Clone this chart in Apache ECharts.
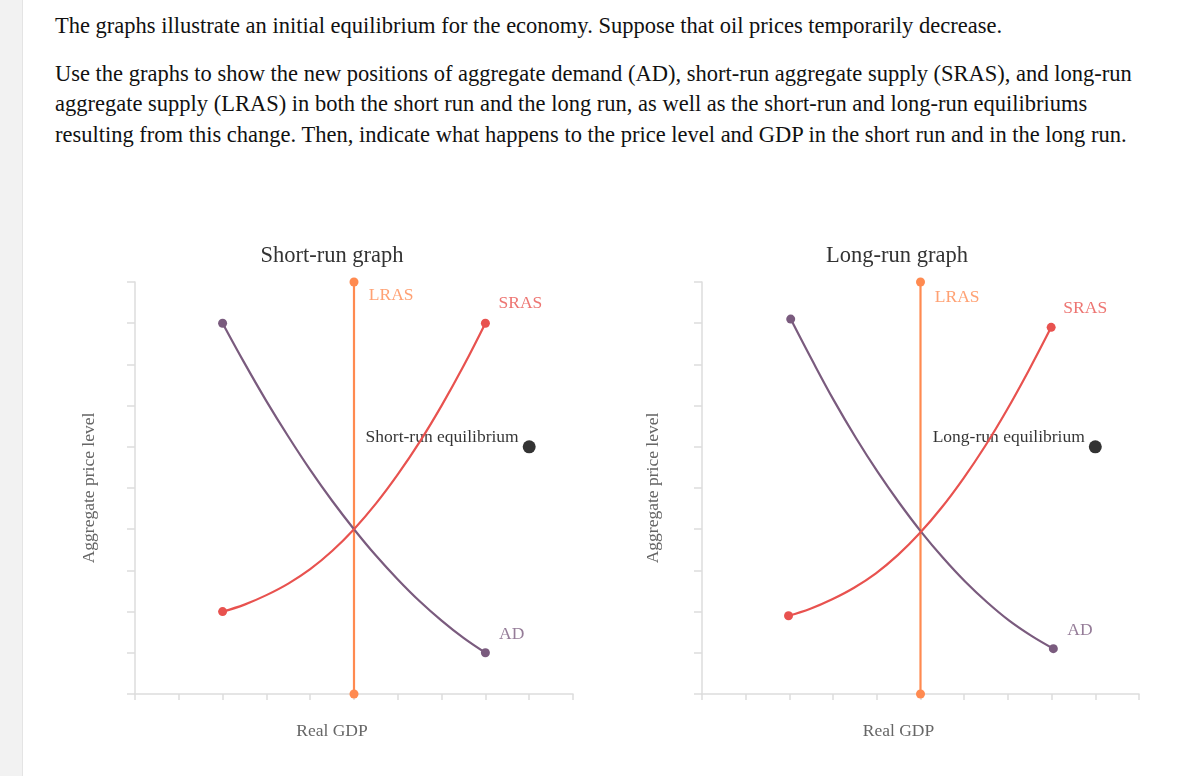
<!DOCTYPE html>
<html>
<head>
<meta charset="utf-8">
<script src="https://cdn.jsdelivr.net/npm/echarts@6/dist/echarts.min.js"></script>
<style>
  html, body { margin: 0; padding: 0; background: #fff; width: 1178px; height: 776px; overflow: hidden; }
  #strip { position: absolute; left: 0; top: 0; width: 22px; height: 776px; background: #f2f2f2; border-right: 1px solid #e4e4e4; }
  #text { position: absolute; left: 55px; top: 11px; width: 1120px; font-family: "Liberation Serif", "Times New Roman", serif; font-size: 22.5px; color: #111; white-space: nowrap; }
  #text p { margin: 0; line-height: 30.5px; }
  #text p.first { margin-bottom: 17px; }
  #chart { position: absolute; left: 0; top: 0; width: 1178px; height: 776px; }
</style>
</head>
<body>
<div id="strip"></div>
<div id="text">
  <p class="first">The graphs illustrate an initial equilibrium for the economy. Suppose that oil prices temporarily decrease.</p>
  <p>Use the graphs to show the new positions of aggregate demand (AD), short-run aggregate supply (SRAS), and long-run<br>aggregate supply (LRAS) in both the short run and the long run, as well as the short-run and long-run equilibriums<br>resulting from this change. Then, indicate what happens to the price level and GDP in the short run and in the long run.</p>
</div>
<div id="chart"></div>
<script>
// ---- data ----
const graphTitles = ["Short-run graph", "Long-run graph"];
const xAxisName = "Real GDP";
const yAxisName = "Aggregate price level";

// Short-run graph
const srLRAS = [[5, 0], [5, 10]];
const srAD = [[2, 9], [2.5, 8.03], [3, 7.11], [3.5, 6.25], [4, 5.44], [4.5, 4.69], [5, 4],
              [5.5, 3.36], [6, 2.78], [6.5, 2.25], [7, 1.78], [7.5, 1.36], [8, 1]];
const srSRAS = [[2, 2], [2.5, 2.17], [3, 2.4], [3.5, 2.68], [4, 3.03], [4.5, 3.47], [5, 4],
                [5.5, 4.62], [6, 5.33], [6.5, 6.12], [7, 7], [7.5, 7.96], [8, 9]];
const srEquilibrium = [[9, 6]];
const srEquilibriumName = "Short-run equilibrium";
const srCurveLabels = [
  { name: "LRAS", pos: [5.85, 9.68] },
  { name: "SRAS", pos: [8.8, 9.47] },
  { name: "AD", pos: [8.6, 1.45] }
];

// Long-run graph
const lrLRAS = [[5, 0], [5, 10]];
const lrAD = [[2.03, 9.1], [2.53, 8.08], [3.02, 7.12], [3.52, 6.22], [4.02, 5.39], [4.52, 4.63], [5.02, 3.93],
              [5.52, 3.3], [6.02, 2.73], [6.53, 2.22], [7.03, 1.78], [7.54, 1.41], [8.04, 1.1]];
const lrSRAS = [[1.98, 1.9], [2.48, 2.07], [2.98, 2.3], [3.48, 2.58], [3.98, 2.93], [4.48, 3.37], [4.98, 3.9],
                [5.48, 4.52], [5.98, 5.23], [6.48, 6.02], [6.98, 6.9], [7.48, 7.86], [7.99, 8.9]];
const lrEquilibrium = [[9, 6]];
const lrEquilibriumName = "Long-run equilibrium";
const lrCurveLabels = [
  { name: "LRAS", pos: [5.84, 9.62] },
  { name: "SRAS", pos: [8.77, 9.35] },
  { name: "AD", pos: [8.65, 1.55] }
];

// ---- styling ----
const FONT = "Liberation Serif";
const C_LRAS = "#ff8a50";
const C_SRAS = "#e8524f";
const C_AD = "#7a5b7e";
const AXIS_C = "#dddddd";
const LABEL_SIZE = 17.5;

function axisPair(gi, nameGapY) {
  return {
    x: {
      type: "value", gridIndex: gi, min: 0, max: 10, interval: 1,
      axisLine: { show: true, lineStyle: { color: AXIS_C, width: 1.5 } },
      axisTick: { show: true, length: 6, lineStyle: { color: AXIS_C, width: 1.5 } },
      axisLabel: { show: false }, splitLine: { show: false },
      name: xAxisName, nameLocation: "middle", nameGap: 28,
      nameTextStyle: { fontFamily: FONT, fontSize: LABEL_SIZE, color: "#666", padding: [0, 44, 0, 0] }
    },
    y: {
      type: "value", gridIndex: gi, min: 0, max: 10, interval: 1,
      axisLine: { show: true, lineStyle: { color: AXIS_C, width: 1.5 } },
      axisTick: { show: true, length: 8, lineStyle: { color: AXIS_C, width: 1.5 } },
      axisLabel: { show: false }, splitLine: { show: false },
      name: yAxisName, nameLocation: "middle", nameGap: nameGapY,
      nameTextStyle: { fontFamily: FONT, fontSize: LABEL_SIZE, color: "#666" }
    }
  };
}

function curve(data, color, gi) {
  return {
    type: "line", xAxisIndex: gi, yAxisIndex: gi, smooth: 0.4, clip: false,
    symbol: "circle", showSymbol: true, showAllSymbol: true,
    data: data.map((p, i) => ({
      value: p,
      symbolSize: (i === 0 || i === data.length - 1) ? 9 : 0
    })),
    lineStyle: { color: color, width: 2.2 },
    itemStyle: { color: color },
    z: 5, silent: true
  };
}

function labels(list, gi) {
  const colors = { LRAS: C_LRAS, SRAS: C_SRAS, AD: C_AD };
  return {
    type: "scatter", xAxisIndex: gi, yAxisIndex: gi, symbolSize: 1, clip: false,
    itemStyle: { color: "rgba(0,0,0,0)" },
    data: list.map(l => ({
      name: l.name, value: l.pos,
      label: { show: true, position: "inside", formatter: "{b}", color: colors[l.name],
               fontFamily: FONT, fontSize: LABEL_SIZE }
    })),
    z: 3, silent: true
  };
}

function equilibrium(data, name, gi) {
  return {
    type: "scatter", xAxisIndex: gi, yAxisIndex: gi, symbolSize: 13, clip: false,
    itemStyle: { color: "#000" },
    data: data.map(p => ({ name: name, value: p })),
    label: { show: true, position: "left", distance: 4, offset: [0, -9], formatter: "{b}",
             color: "#000", fontFamily: FONT, fontSize: LABEL_SIZE },
    z: 2, silent: true
  };
}

const a0 = axisPair(0, 37);
const a1 = axisPair(1, 40);

const option = {
  animation: false,
  title: [
    { text: graphTitles[0], left: 327, top: 240, textAlign: "center",
      textStyle: { fontFamily: FONT, fontSize: 22.5, fontWeight: "normal", color: "#333" } },
    { text: graphTitles[1], left: 892, top: 240, textAlign: "center",
      textStyle: { fontFamily: FONT, fontSize: 22.5, fontWeight: "normal", color: "#333" } }
  ],
  grid: [
    { left: 135, top: 282, width: 438, height: 412 },
    { left: 702, top: 282, width: 437, height: 412 }
  ],
  xAxis: [a0.x, a1.x],
  yAxis: [a0.y, a1.y],
  series: [
    labels(srCurveLabels, 0),
    equilibrium(srEquilibrium, srEquilibriumName, 0),
    curve(srLRAS, C_LRAS, 0),
    curve(srAD, C_AD, 0),
    curve(srSRAS, C_SRAS, 0),
    labels(lrCurveLabels, 1),
    equilibrium(lrEquilibrium, lrEquilibriumName, 1),
    curve(lrLRAS, C_LRAS, 1),
    curve(lrAD, C_AD, 1),
    curve(lrSRAS, C_SRAS, 1)
  ]
};

const chart = echarts.init(document.getElementById("chart"), null, { renderer: "canvas" });
chart.setOption(option);
</script>
</body>
</html>
